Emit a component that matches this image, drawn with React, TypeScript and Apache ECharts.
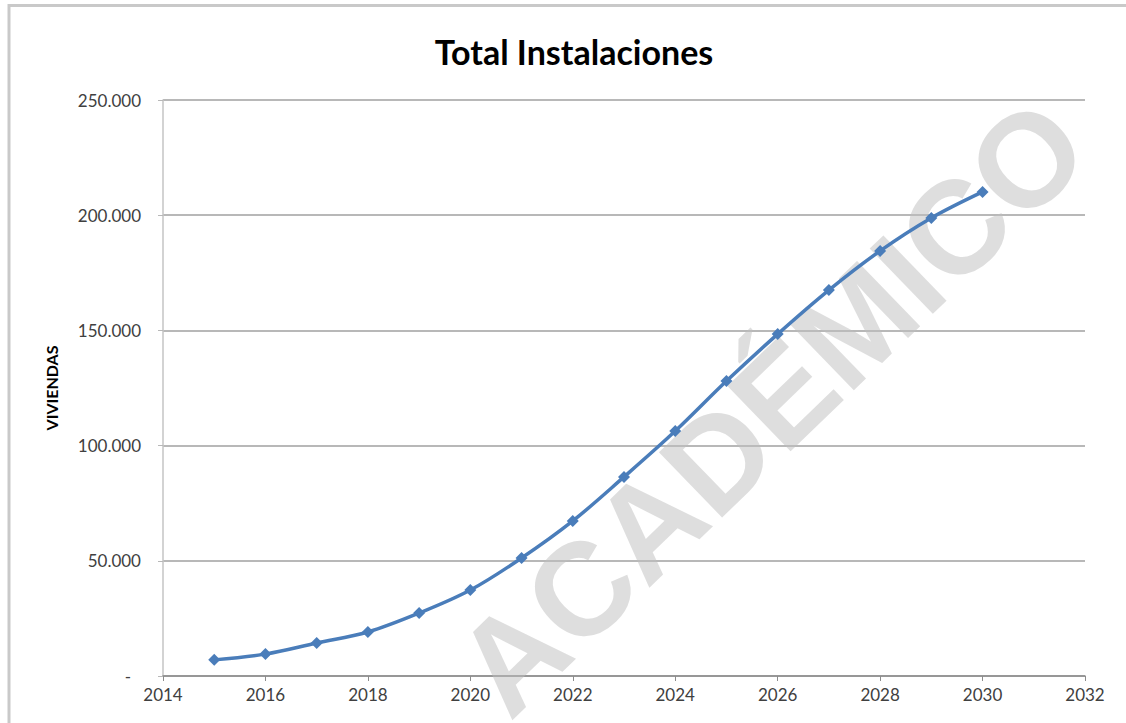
import React, { useEffect, useRef } from "react";
import * as echarts from "echarts";

const years = [2015, 2016, 2017, 2018, 2019, 2020, 2021, 2022, 2023, 2024, 2025, 2026, 2027, 2028, 2029, 2030];
const viviendas = [7000, 9500, 14300, 19100, 27300, 37300, 51200, 67300, 86400, 106300, 128000, 148400, 167500, 184500, 198800, 210100];
const xTicks = { min: 2014, max: 2032, interval: 2 };
const yTicks = { min: 0, max: 250000, interval: 50000 };
const titleText = "Total Instalaciones";
const yAxisName = "VIVIENDAS";
const watermark = "ACADÉMICO";

function fmtY(v: number): string {
  if (v === 0) return "{d|-}";
  return v.toLocaleString("en-US").replace(/,/g, ".");
}

export default function App() {
  const ref = useRef<HTMLDivElement>(null);
  useEffect(() => {
    if (!ref.current) return;
    const chart = echarts.init(ref.current, undefined, { renderer: "svg" });
    const font = "Lato";
    chart.setOption({
      animation: false,
      backgroundColor: "#ffffff",
      title: {
        text: titleText,
        left: 569,
        textAlign: "center",
        top: 29,
        textStyle: { fontFamily: font, fontSize: 34, fontWeight: "bold", color: "#000000" },
      },
      grid: { left: 163, top: 100, right: 41, bottom: 47, containLabel: false },
      xAxis: {
        type: "value",
        min: xTicks.min,
        max: xTicks.max,
        interval: xTicks.interval,
        axisLine: { show: true, lineStyle: { color: "#8c8c8c", width: 1.5 } },
        axisTick: { show: true, length: 5, lineStyle: { color: "#8c8c8c" } },
        axisLabel: { fontFamily: font, fontSize: 17, color: "#404040", margin: 10, formatter: (v: number) => String(v) },
        splitLine: { show: false },
      },
      yAxis: {
        type: "value",
        min: yTicks.min,
        max: yTicks.max,
        interval: yTicks.interval,
        name: yAxisName,
        nameLocation: "middle",
        nameRotate: 90,
        nameGap: 104,
        nameTextStyle: { fontFamily: font, fontSize: 16, fontWeight: "bold", color: "#000000" },
        axisLine: { show: true, lineStyle: { color: "#c4c4c4", width: 1.5 } },
        axisTick: { show: true, length: 5, lineStyle: { color: "#b8b8b8" } },
        axisLabel: {
          fontFamily: font,
          fontSize: 17,
          color: "#404040",
          margin: 22,
          formatter: fmtY,
          rich: { d: { fontFamily: font, fontSize: 17, color: "#404040", padding: [0, 10, 0, 0] } },
        },
        splitLine: { show: true, lineStyle: { color: "#b8b8b8", width: 1.8 } },
      },
      graphic: [
        {
          type: "rect",
          z: 10,
          silent: true,
          shape: { x: 9, y: 5.5, width: 1300, height: 900 },
          style: { fill: "none", stroke: "#c9c9c9", lineWidth: 3 },
        },
        {
          type: "text",
          z: 1,
          silent: true,
          x: 771,
          y: 407,
          rotation: (44 * Math.PI) / 180,
          style: {
            text: watermark,
            font: "bold 132px 'Liberation Sans'",
            fill: "rgba(190,190,190,0.5)",
            textAlign: "center",
            textVerticalAlign: "middle",
          },
        },
      ],
      series: [
        {
          type: "line",
          z: 3,
          data: years.map((y, i) => [y, viviendas[i]]),
          smooth: 0.35,
          symbol: "diamond",
          symbolSize: 12,
          lineStyle: { color: "#4a7dba", width: 3.5 },
          itemStyle: { color: "#4a7dba" },
        },
      ],
    });
    return () => chart.dispose();
  }, []);
  return <div ref={ref} style={{ position: "fixed", left: 0, top: 0, width: 1126, height: 723 }} />;
}
